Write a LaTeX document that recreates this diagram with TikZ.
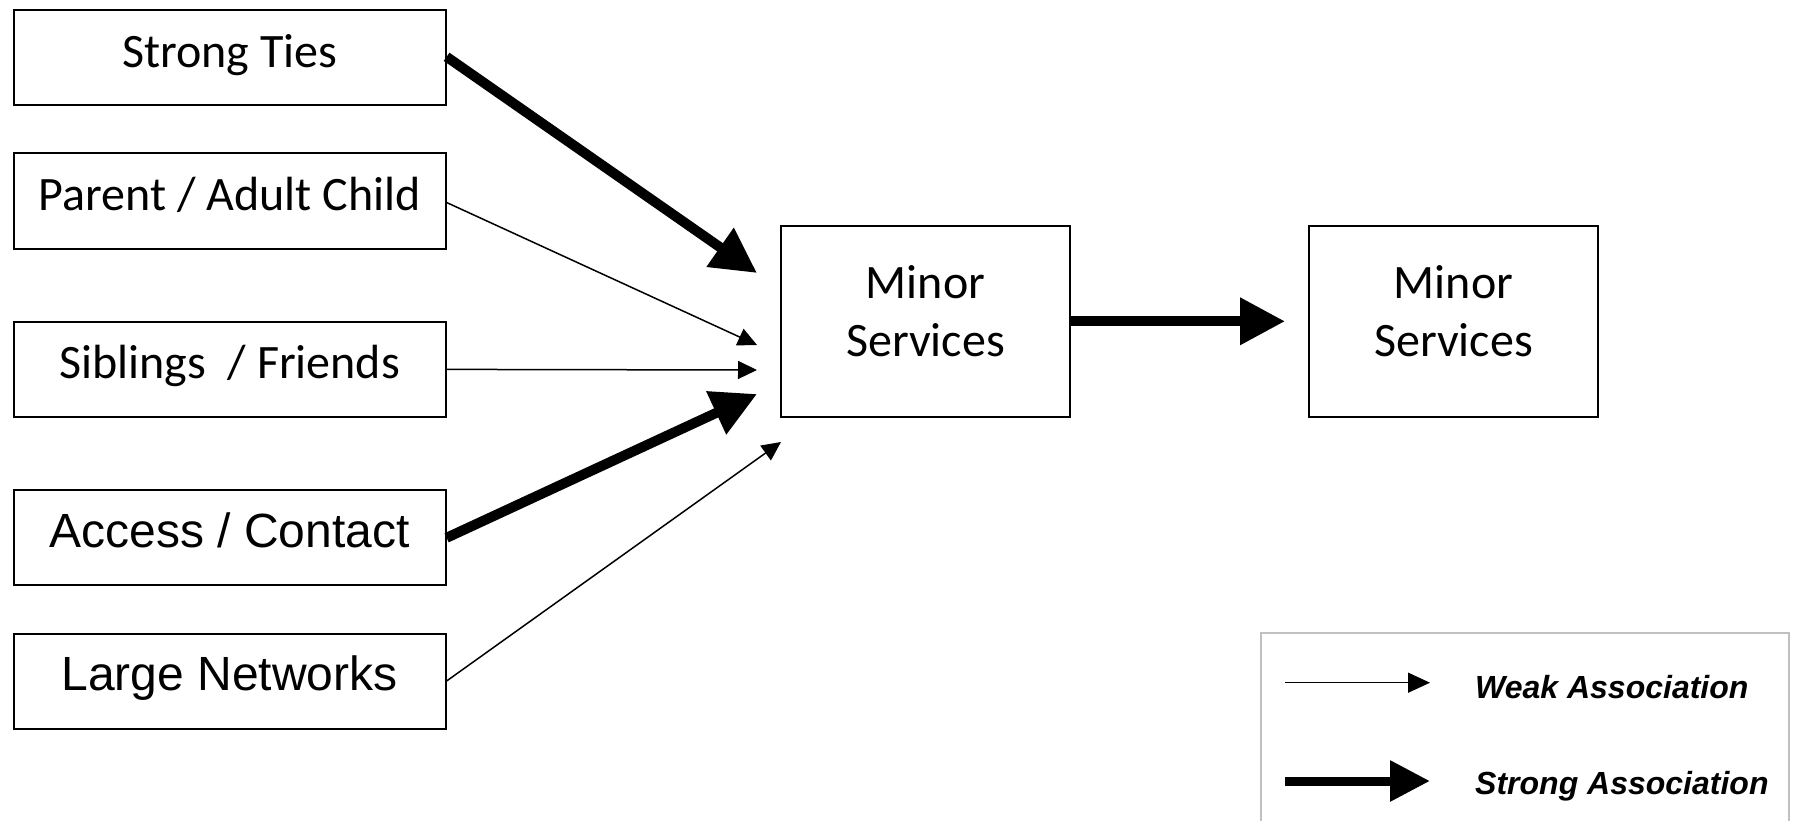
\documentclass[tikz,border=0pt]{standalone}
\usepackage{fontspec}
\setmainfont{Liberation Sans}
\newfontfamily\gillfont{Carlito}
\usetikzlibrary{arrows.meta}
\definecolor{leggray}{RGB}{192,192,192}
\begin{document}
\begin{tikzpicture}[x=1pt,y=-1pt,
  box/.style={draw=black,line width=2pt,minimum width=432pt,minimum height=95pt,inner sep=0pt,text height=34pt,text depth=15pt},
  mbox/.style={draw=black,line width=2pt,minimum width=289pt,minimum height=191pt,inner sep=0pt},
  gtext/.style={font=\gillfont\fontsize{48}{58}\selectfont},
  atext/.style={font=\fontsize{48}{58}\selectfont},
  weakarrow/.style={line width=1.5pt,-{Triangle[length=19pt,width=18pt]}},
  strongarrow/.style={line width=10pt,-{Triangle[length=45pt,width=45pt]}},
  legtext/.style={font=\bfseries\itshape\fontsize{32}{38}\selectfont,anchor=west,inner sep=0pt}
]
\useasboundingbox (0,0) rectangle (1796,821);
\fill[white] (0,0) rectangle (1796,821);

% left boxes
\node[box,gtext] (st) at (229.6,57.8) {Strong Ties};
\node[box,gtext] (pa) at (229.6,201) {Parent / Adult Child};
\node[box,gtext] (sf) at (229.6,369.4) {Siblings~ / Friends};
\node[box,atext] (ac) at (229.6,537.8) {Access / Contact};
\node[box,atext] (ln) at (229.6,681) {Large Networks};

% middle and right boxes
\node[mbox] (m1) at (925.5,321.3) {};
\node[gtext,align=center] (m1t) at (925.5,311) {Minor\\Services};
\node[mbox] (m2) at (1453.5,321.3) {};
\node[gtext,align=center] (m2t) at (1453.5,311) {Minor\\Services};

% arrow tips
\coordinate (t1) at (757,273);
\coordinate (t2) at (757,345);
\coordinate (t3) at (757,370);
\coordinate (t4) at (757,394);
\coordinate (t5) at (781,442);
\coordinate (t6) at (1285,321.3);

\draw[strongarrow] (st.east) ++(0,-1) -- (t1);
\draw[weakarrow] (pa.east) ++(0,1.5) -- (t2);
\draw[weakarrow] (sf.east) -- (t3);
\draw[strongarrow] (ac.east) -- (t4);
\draw[weakarrow] (ln.east) -- (t5);
\draw[strongarrow] (m1.east) -- (t6);

% legend
\draw[leggray,line width=2pt] (1261,830) -- (1261,633.4) -- (1789,633.4) -- (1789,830);
\coordinate (la) at (1285,682.7);
\coordinate (lb) at (1430,682.7);
\coordinate (lc) at (1285,781);
\coordinate (ld) at (1430,781);
\draw[line width=1.5pt,-{Triangle[length=22pt,width=20pt]}] (la) -- (lb);
\draw[line width=9pt,-{Triangle[length=40pt,width=39pt]}] (lc) -- (ld);
\node[legtext] (lw) at (1475,687) {Weak Association};
\node[legtext] (ls) at (1475,786) {Strong Association};
\end{tikzpicture}
\end{document}
